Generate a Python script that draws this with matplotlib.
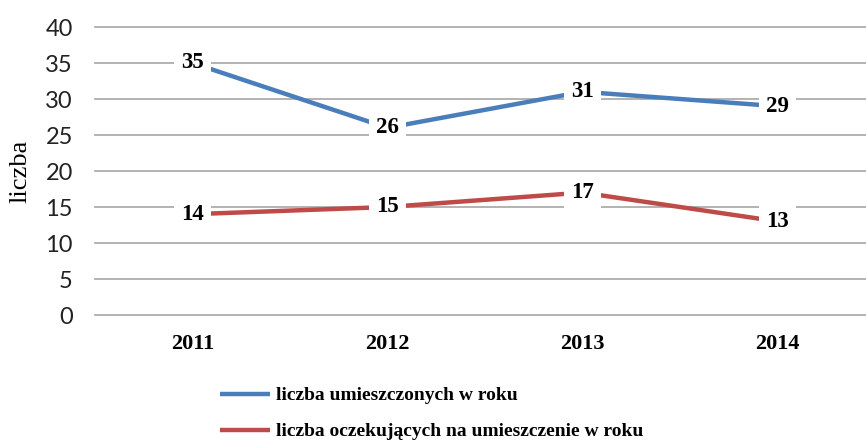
import matplotlib
matplotlib.use("Agg")
import matplotlib.pyplot as plt

years = ["2011", "2012", "2013", "2014"]
umieszczeni = [35, 26, 31, 29]
oczekujacy = [14, 15, 17, 13]
series_names = ["liczba umieszczonych w roku",
                "liczba oczekujących na umieszczenie w roku"]
y_ticks = [0, 5, 10, 15, 20, 25, 30, 35, 40]

blue = "#4a7ebb"
red = "#be4b48"
serif = "Liberation Serif"

fig = plt.figure(figsize=(8.66, 4.41), dpi=100)
ax = fig.add_axes([95 / 866, 1 - 315 / 441, 1 - 95 / 866, (315 - 27) / 441])

x = list(range(len(years)))
ax.plot(x, umieszczeni, color=blue, lw=3.2, solid_capstyle="butt", zorder=3,
        label=series_names[0])
ax.plot(x, oczekujacy, color=red, lw=3.2, solid_capstyle="butt", zorder=3,
        label=series_names[1])

# etykiety danych na białym tle
for vals in (umieszczeni, oczekujacy):
    for xi, v in zip(x, vals):
        ax.text(xi, v, str(v), ha="center", va="center", fontsize=16.5,
                fontweight="bold", family=serif, zorder=4,
                bbox=dict(boxstyle="square,pad=0.3", fc="white", ec="none"))

ax.set_xlim(-0.5, -0.5 + 771 / 195)
ax.set_ylim(0, 40)
ax.set_yticks(y_ticks)
ax.set_xticks(x)
ax.set_xticklabels(years, family=serif, fontweight="bold", fontsize=16)
ax.tick_params(axis="both", length=0)
ax.tick_params(axis="y", pad=16, labelsize=17, labelcolor="#222222")
ax.tick_params(axis="x", pad=14)
for lab in ax.get_yticklabels():
    lab.set_family("Lato")

for s in ax.spines.values():
    s.set_visible(False)
ax.yaxis.grid(True, color="#a6a6a6", lw=1.2)
for gl in ax.get_ygridlines():
    gl.set_clip_on(False)
ax.set_axisbelow(True)

ax.set_ylabel("liczba", family=serif, fontsize=19)
ax.yaxis.label.set_va("center")
ax.yaxis.set_label_coords(-75 / 771, 0.5)

fig.legend(loc="upper left", bbox_to_anchor=(212 / 866, 1 - 379 / 441),
           frameon=False, ncol=1, handlelength=2.6, handletextpad=0.3,
           labelspacing=0.95, borderaxespad=0,
           prop={"family": serif, "weight": "bold", "size": 14})

fig.savefig("out.png", dpi=100)
